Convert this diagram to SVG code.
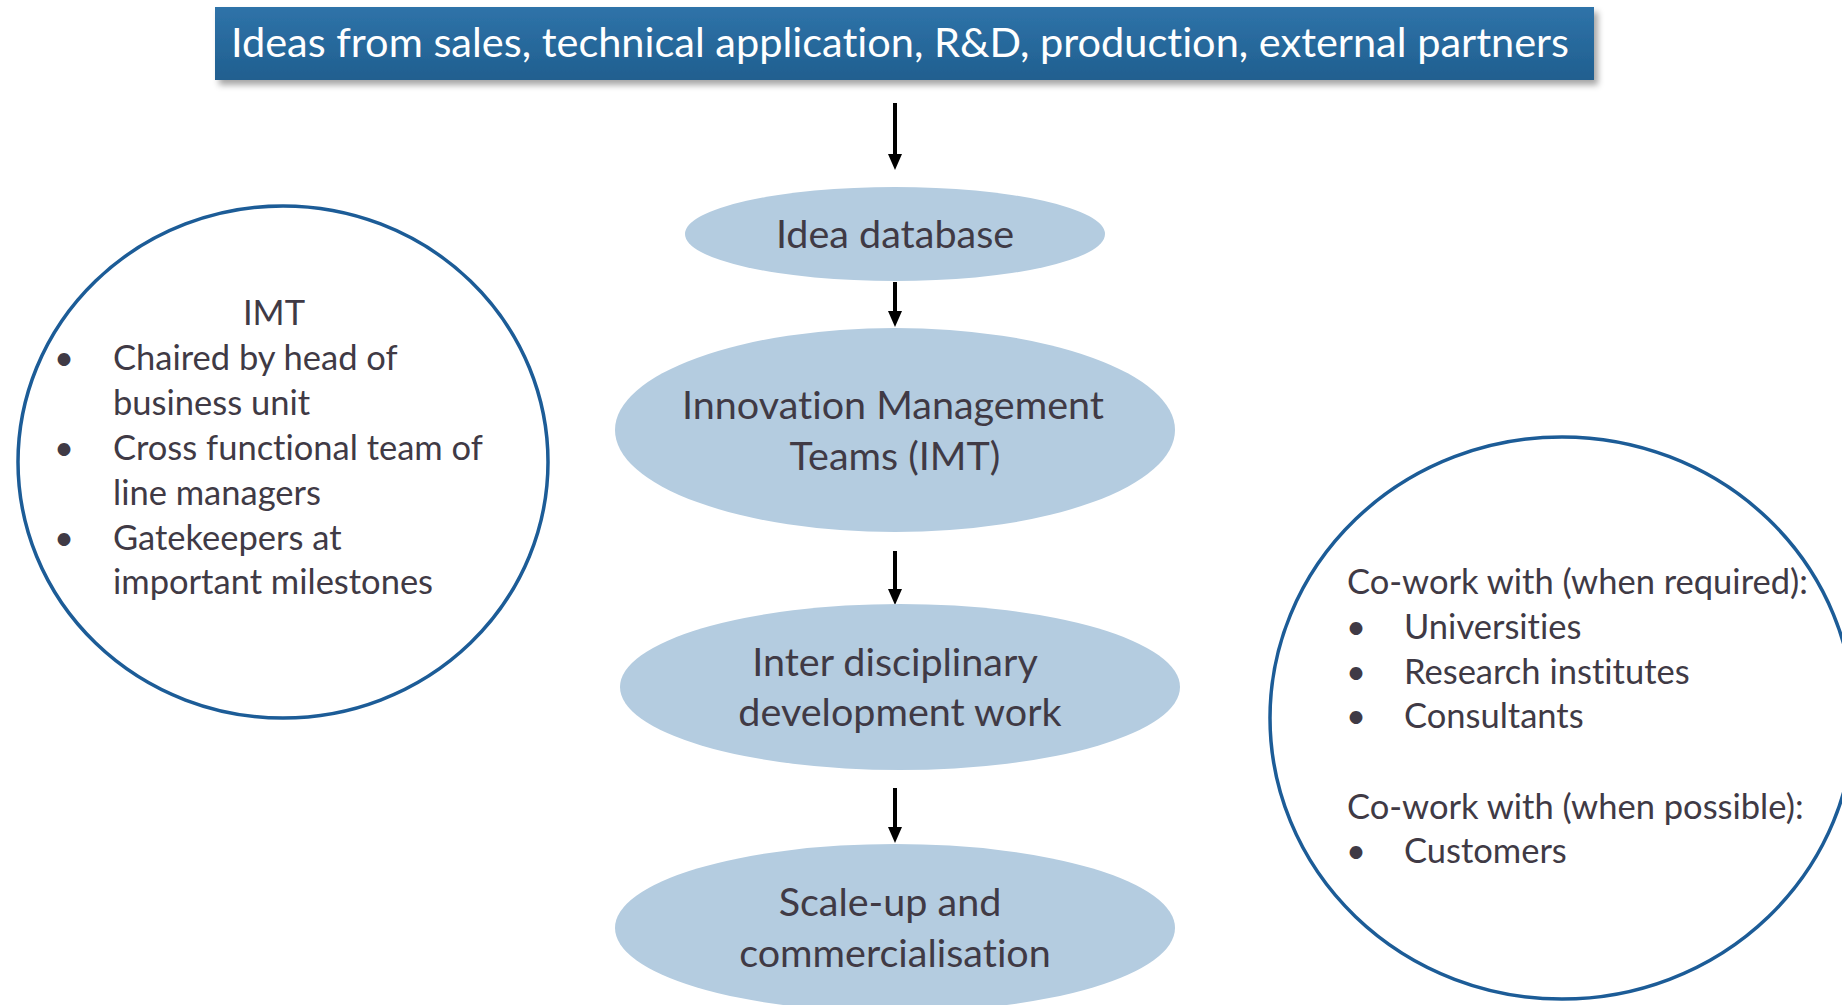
<svg xmlns="http://www.w3.org/2000/svg" width="1842" height="1005" viewBox="0 0 1842 1005">
<defs>
<linearGradient id="bannerGrad" x1="0" y1="0" x2="0" y2="1">
<stop offset="0" stop-color="#2f73a9"/>
<stop offset="1" stop-color="#205f8f"/>
</linearGradient>
<filter id="shadow" x="-5%" y="-30%" width="110%" height="170%">
<feDropShadow dx="4" dy="5" stdDeviation="3" flood-color="#000" flood-opacity="0.35"/>
</filter>
<marker id="arrow" markerWidth="4" markerHeight="4" refX="0" refY="2" orient="auto" markerUnits="strokeWidth">
<path d="M0,0.25 L4,2 L0,3.75 Z" fill="#000"/>
</marker>
</defs>
<style>
text { font-variant-ligatures: none; }
.txt { font-family: Lato, "Open Sans", "Liberation Sans", sans-serif; fill: #403a45; }
.node { fill: #b4cce0; }
.ring { fill: #fff; stroke: #1c5c97; stroke-width: 3.5; }
.conn { stroke: #000; stroke-width: 4; fill: none; marker-end: url(#arrow); }
.center { text-anchor: middle; font-size: 39.5px; }
.side { font-size: 34.5px; }
</style>
<rect width="1842" height="1005" fill="#fff"/>

<g id="banner">
<rect x="215" y="7" width="1379" height="73" fill="url(#bannerGrad)" filter="url(#shadow)"/>
<text x="900" y="57" text-anchor="middle" font-family="Lato, 'Open Sans', 'Liberation Sans', sans-serif" font-size="41.5" fill="#fff">Ideas from sales, technical application, R&amp;D, production, external partners</text>
</g>

<g id="connectors">
<line class="conn" x1="895" y1="103" x2="895" y2="154"/>
<line class="conn" x1="895" y1="282" x2="895" y2="311"/>
<line class="conn" x1="895" y1="551" x2="895" y2="589"/>
<line class="conn" x1="895" y1="788" x2="895" y2="827"/>
</g>

<g id="idea-database">
<ellipse class="node" cx="895" cy="234" rx="210" ry="47"/>
<text class="txt center" x="895" y="248">Idea database</text>
</g>

<g id="imt-node">
<ellipse class="node" cx="895" cy="430" rx="280" ry="102"/>
<text class="txt center" x="893" y="419">Innovation Management</text>
<text class="txt center" x="895" y="470">Teams (IMT)</text>
</g>

<g id="interdisciplinary">
<ellipse class="node" cx="900" cy="687" rx="280" ry="83"/>
<text class="txt center" x="895" y="676">Inter disciplinary</text>
<text class="txt center" x="900" y="726">development work</text>
</g>

<g id="scale-up">
<ellipse class="node" cx="895" cy="928" rx="280" ry="84"/>
<text class="txt center" x="890" y="916">Scale-up and</text>
<text class="txt center" x="895" y="967">commercialisation</text>
</g>

<g id="imt-circle">
<ellipse class="ring" cx="283" cy="462" rx="265" ry="256"/>
<text class="txt side" x="274" y="325" text-anchor="middle">IMT</text>
<text class="txt side" x="54" y="370">•</text>
<text class="txt side" x="113" y="370">Chaired by head of</text>
<text class="txt side" x="113" y="415">business unit</text>
<text class="txt side" x="54" y="460">•</text>
<text class="txt side" x="113" y="460">Cross functional team of</text>
<text class="txt side" x="113" y="505">line managers</text>
<text class="txt side" x="54" y="550">•</text>
<text class="txt side" x="113" y="550">Gatekeepers at</text>
<text class="txt side" x="113" y="594">important milestones</text>
</g>

<g id="cowork-circle">
<ellipse class="ring" cx="1562" cy="718" rx="292" ry="281"/>
<text class="txt side" x="1347" y="594">Co-work with (when required):</text>
<text class="txt side" x="1346" y="639">•</text>
<text class="txt side" x="1404" y="639">Universities</text>
<text class="txt side" x="1346" y="684">•</text>
<text class="txt side" x="1404" y="684">Research institutes</text>
<text class="txt side" x="1346" y="728">•</text>
<text class="txt side" x="1404" y="728">Consultants</text>
<text class="txt side" x="1347" y="819">Co-work with (when possible):</text>
<text class="txt side" x="1346" y="863">•</text>
<text class="txt side" x="1404" y="863">Customers</text>
</g>
</svg>
